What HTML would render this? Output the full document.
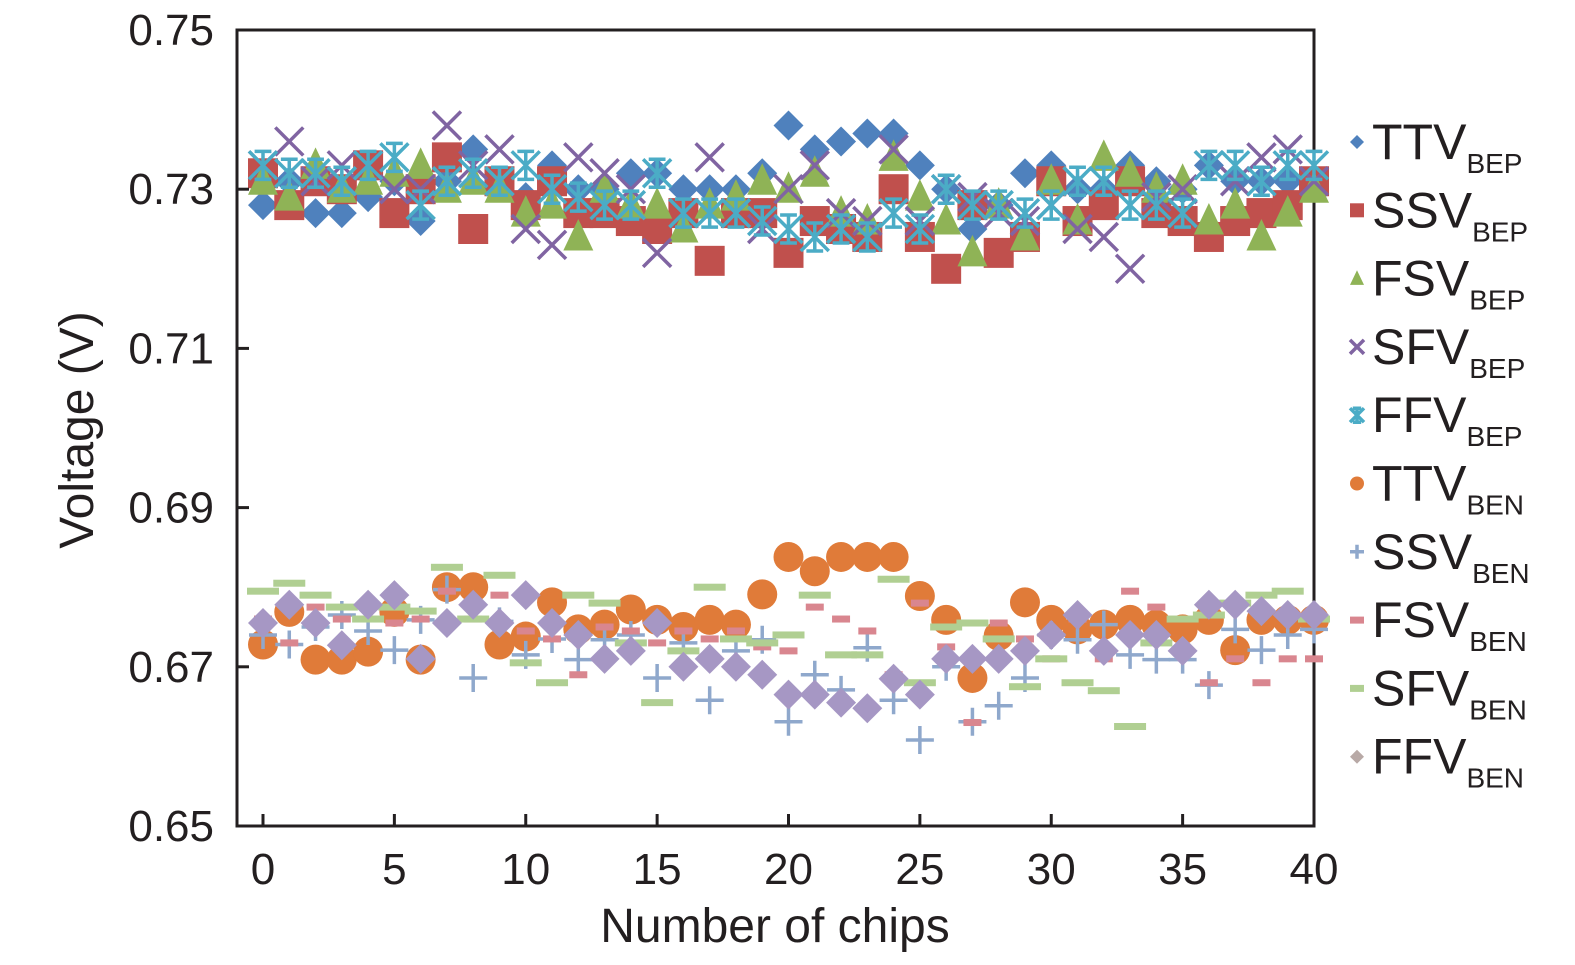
<!DOCTYPE html>
<html><head><meta charset="utf-8"><style>
html,body{margin:0;padding:0;background:#fff;}
svg{display:block;font-family:"Liberation Sans",sans-serif;}
</style></head><body>
<svg id="chart" width="1575" height="965" viewBox="0 0 1575 965"></svg>
<script>
const xTicks=[0,5,10,15,20,25,30,35,40];
const yTicks=[0.65,0.67,0.69,0.71,0.73,0.75];
const ttvBep=[0.728,0.731,0.727,0.727,0.729,0.731,0.726,0.731,0.735,0.731,0.729,0.733,0.730,0.730,0.732,0.732,0.730,0.730,0.730,0.732,0.738,0.735,0.736,0.737,0.737,0.733,0.730,0.725,0.728,0.732,0.733,0.730,0.730,0.733,0.731,0.730,0.733,0.731,0.731,0.731,0.731];
const ssvBep=[0.732,0.728,0.731,0.730,0.733,0.727,0.730,0.734,0.725,0.731,0.728,0.731,0.727,0.727,0.726,0.725,0.727,0.721,0.727,0.727,0.722,0.726,0.725,0.724,0.730,0.724,0.720,0.728,0.722,0.724,0.731,0.726,0.728,0.731,0.727,0.726,0.724,0.726,0.727,0.728,0.731];
const fsvBep=[0.731,0.729,0.733,0.730,0.731,0.732,0.733,0.730,0.731,0.730,0.727,0.728,0.724,0.730,0.728,0.728,0.725,0.728,0.729,0.731,0.730,0.732,0.727,0.726,0.734,0.729,0.726,0.722,0.728,0.724,0.731,0.726,0.734,0.732,0.730,0.731,0.726,0.728,0.724,0.727,0.730];
const sfvBep=[0.733,0.736,0.731,0.733,0.733,0.730,0.730,0.738,0.733,0.735,0.725,0.723,0.734,0.732,0.730,0.722,0.727,0.734,0.727,0.725,0.730,0.733,0.727,0.726,0.735,0.726,0.730,0.729,0.727,0.726,0.728,0.725,0.724,0.720,0.729,0.730,0.733,0.731,0.734,0.735,0.731];
const ffvBep=[0.733,0.732,0.732,0.731,0.733,0.734,0.728,0.731,0.732,0.731,0.733,0.730,0.729,0.728,0.728,0.732,0.727,0.727,0.727,0.726,0.725,0.724,0.725,0.724,0.727,0.725,0.730,0.728,0.728,0.727,0.728,0.731,0.731,0.728,0.728,0.727,0.733,0.733,0.731,0.733,0.733];
const ttvBen=[0.6728,0.6769,0.6709,0.6709,0.6719,0.6769,0.6709,0.6800,0.6800,0.6728,0.6738,0.6781,0.6747,0.6753,0.6772,0.6759,0.6750,0.6759,0.6753,0.6791,0.6838,0.6820,0.6838,0.6838,0.6838,0.6789,0.6759,0.6686,0.6739,0.6781,0.6759,0.6747,0.6753,0.6759,0.6753,0.6747,0.6759,0.6721,0.6759,0.6759,0.6759];
const ssvBen=[0.6740,0.6728,0.6750,0.6765,0.6745,0.6721,0.6759,0.6797,0.6686,0.6757,0.6715,0.6735,0.6709,0.6734,0.6740,0.6686,0.6730,0.6658,0.6720,0.6734,0.6631,0.6690,0.6671,0.6724,0.6658,0.6608,0.6700,0.6631,0.6651,0.6686,0.6740,0.6734,0.6753,0.6715,0.6709,0.6709,0.6677,0.6747,0.6721,0.6740,0.6747];
const fsvBen=[0.6760,0.6730,0.6775,0.6760,0.6780,0.6755,0.6760,0.6795,0.6760,0.6790,0.6745,0.6735,0.6690,0.6750,0.6745,0.6730,0.6745,0.6735,0.6745,0.6725,0.6720,0.6775,0.6760,0.6745,0.6690,0.6780,0.6725,0.6630,0.6755,0.6735,0.6710,0.6760,0.6710,0.6795,0.6775,0.6720,0.6680,0.6710,0.6680,0.6710,0.6710];
const sfvBen=[0.6795,0.6805,0.6790,0.6775,0.6760,0.6775,0.6770,0.6825,0.6760,0.6815,0.6705,0.6680,0.6790,0.6780,0.6730,0.6655,0.6720,0.6800,0.6735,0.6730,0.6740,0.6790,0.6715,0.6715,0.6810,0.6680,0.6750,0.6755,0.6735,0.6675,0.6710,0.6680,0.6670,0.6625,0.6730,0.6760,0.6765,0.6780,0.6790,0.6795,0.6760];
const ffvBen=[0.6755,0.6778,0.6755,0.6727,0.6778,0.6790,0.6710,0.6755,0.6778,0.6755,0.6790,0.6755,0.6740,0.6710,0.6720,0.6755,0.6700,0.6710,0.6700,0.6690,0.6665,0.6665,0.6655,0.6648,0.6685,0.6665,0.6710,0.6710,0.6710,0.6720,0.6740,0.6765,0.6720,0.6740,0.6740,0.6720,0.6778,0.6778,0.6770,0.6765,0.6765];

const NS="http://www.w3.org/2000/svg";
const svg=document.getElementById('chart');
const X0=237,X1=1314,Y0=30,Y1=826;
function xs(v){return 263+v*(1314-263)/40;}
function ys(v){return Y1-(v-0.65)/(0.10)*(Y1-Y0);}
function mk(tag,attrs,parent){const e=document.createElementNS(NS,tag);for(const k in attrs)e.setAttribute(k,attrs[k]);(parent||svg).appendChild(e);return e;}

function marker(g,type,cx,cy,color,s){
  let e;
  if(type==='diamond'){e=mk('polygon',{points:`${cx},${cy-s} ${cx+s},${cy} ${cx},${cy+s} ${cx-s},${cy}`,fill:color},g);}
  else if(type==='square'){e=mk('rect',{x:cx-s,y:cy-s,width:2*s,height:2*s,fill:color},g);}
  else if(type==='triangle'){e=mk('polygon',{points:`${cx},${cy-s*1.2} ${cx+s},${cy+s*0.9} ${cx-s},${cy+s*0.9}`,fill:color},g);}
  else if(type==='x'){e=mk('path',{d:`M${cx-s},${cy-s}L${cx+s},${cy+s}M${cx+s},${cy-s}L${cx-s},${cy+s}`,stroke:color,'stroke-width':3.5,fill:'none'},g);}
  else if(type==='star'){e=mk('path',{d:`M${cx-s},${cy-s}L${cx+s},${cy+s}M${cx+s},${cy-s}L${cx-s},${cy+s}M${cx},${cy-s}L${cx},${cy+s}M${cx-s*0.6},${cy-s}L${cx+s*0.6},${cy-s}M${cx-s*0.6},${cy+s}L${cx+s*0.6},${cy+s}`,stroke:color,'stroke-width':3.5,fill:'none'},g);}
  else if(type==='circle'){e=mk('circle',{cx:cx,cy:cy,r:s,fill:color},g);}
  else if(type==='plus'){e=mk('path',{d:`M${cx-s},${cy}L${cx+s},${cy}M${cx},${cy-s}L${cx},${cy+s}`,stroke:color,'stroke-width':3.5,fill:'none'},g);}
  else if(type==='dash'){e=mk('rect',{x:cx-s,y:cy-3.5,width:2*s,height:7,fill:color},g);}
  return e;
}

const series=[
 {name:'ttv-bep',data:ttvBep,type:'diamond',color:'#4f81bd',s:15},
 {name:'ssv-bep',data:ssvBep,type:'square',color:'#c0504d',s:15},
 {name:'fsv-bep',data:fsvBep,type:'triangle',color:'#8fb356',s:15},
 {name:'sfv-bep',data:sfvBep,type:'x',color:'#8064a2',s:14},
 {name:'ffv-bep',data:ffvBep,type:'star',color:'#4bacc6',s:14},
 {name:'ttv-ben',data:ttvBen,type:'circle',color:'#e07b39',s:15},
 {name:'ssv-ben',data:ssvBen,type:'plus',color:'#8fa8cc',s:14},
 {name:'fsv-ben',data:fsvBen,type:'dash',color:'#d9868f',s:9},
 {name:'sfv-ben',data:sfvBen,type:'dash',color:'#b0cf92',s:16},
 {name:'ffv-ben',data:ffvBen,type:'diamond',color:'#a697c4',s:15}
];

const frame=mk('rect',{x:X0,y:Y0,width:X1-X0,height:Y1-Y0,fill:'none',stroke:'#231f20','stroke-width':3});



series.forEach(sr=>{
  const g=mk('g',{});
  
  
  sr.data.forEach((v,i)=>{
    const m=marker(g,sr.type,xs(i),ys(v),sr.color,sr.s);
    
    
  });
});

yTicks.forEach(t=>{
  const y=ys(t);
  const l=mk('line',{x1:X0,x2:X0+12,y1:y,y2:y,stroke:'#231f20','stroke-width':3});
  
  
  const tx=mk('text',{x:214,y:y+15,'text-anchor':'end','font-size':44,fill:'#231f20'});
  tx.textContent=t.toFixed(2);
  
  
});
xTicks.forEach(t=>{
  const x=xs(t);
  const l=mk('line',{x1:x,x2:x,y1:Y1,y2:Y1-12,stroke:'#231f20','stroke-width':3});
  
  
  const tx=mk('text',{x:x,y:884,'text-anchor':'middle','font-size':44,fill:'#231f20'});
  tx.textContent=t;
  
  
});
const xt=mk('text',{x:775,y:942,'text-anchor':'middle','font-size':48,fill:'#231f20'});
xt.textContent='Number of chips';


const yt=mk('text',{x:0,y:0,'text-anchor':'middle','font-size':48,fill:'#231f20',transform:'translate(93,430) rotate(-90)'});
yt.textContent='Voltage (V)';



const labels=['TTV','SSV','FSV','SFV','FFV','TTV','SSV','FSV','SFV','FFV'];
const subs=['BEP','BEP','BEP','BEP','BEP','BEN','BEN','BEN','BEN','BEN'];
const legendColors=['#4f81bd','#c0504d','#8fb356','#8064a2','#4bacc6','#e07b39','#8fa8cc','#d9868f','#b0cf92','#b8a9a6'];
series.forEach((sr,i)=>{
  const y=142+i*68.3;
  const g=mk('g',{});
  
  
  const type=(i===9)?'diamond':sr.type;
  marker(g,type,1357,y,legendColors[i],7);
  const t=mk('text',{x:1372,y:y+17,'font-size':50,fill:'#231f20'},g);
  t.textContent=labels[i];
  const s=mk('tspan',{dy:14,'font-size':28},t);
  s.textContent=subs[i];
});
</script>
</body></html>
